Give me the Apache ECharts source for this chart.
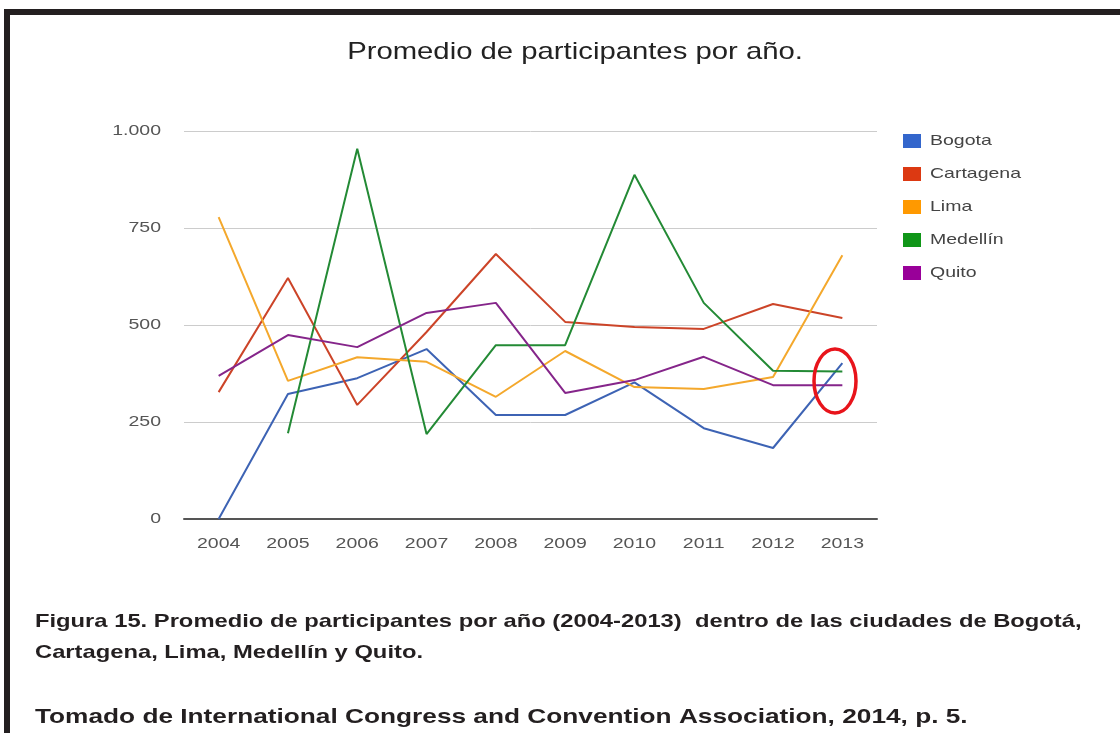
<!DOCTYPE html>
<html>
<head>
<meta charset="utf-8">
<script src="https://cdn.jsdelivr.net/npm/echarts@6/dist/echarts.min.js"></script>
<style>
  html, body { margin: 0; padding: 0; background: #fff; }
  #chart { width: 1120px; height: 733px; }
</style>
</head>
<body>
<div id="chart"></div>
<script>
// Years on the category axis
const years = ['2004', '2005', '2006', '2007', '2008', '2009', '2010', '2011', '2012', '2013'];

// Average participants per year, one array per city
const bogota    = [0, 322, 363, 438, 268, 268, 352, 234, 183, 402];
const cartagena = [327, 621, 294, 482, 683, 508, 495, 490, 554, 518];
const lima      = [778, 356, 417, 405, 315, 433, 340, 335, 366, 680];
const medellin  = [null, 221, 954, 219, 448, 448, 887, 557, 382, 380];
const quito     = [369, 474, 443, 531, 557, 325, 358, 418, 345, 345];

const cityNames = ['Bogota', 'Cartagena', 'Lima', 'Medellín', 'Quito'];
const cityData = [bogota, cartagena, lima, medellin, quito];
const legendColors = ['#3366cc', '#dc3912', '#ff9900', '#109618', '#990099'];
const lineColors = ['#3d63b4', '#cc4428', '#f4a82c', '#238a35', '#85258a'];

// Y axis ticks
const yTicks = [0, 250, 500, 750, 1000];

const chartTitle = 'Promedio de participantes por año.';
const captionLine1 = 'Figura 15. Promedio de participantes por año (2004-2013)  dentro de las ciudades de Bogotá,';
const captionLine2 = 'Cartagena, Lima, Medellín y Quito.';
const sourceLine = 'Tomado de International Congress and Convention Association, 2014, p. 5.';

const FONT = '"Liberation Sans", Arial, sans-serif';
const WIDE = 1.3; // horizontal stretch applied to the chart lettering

const chart = echarts.init(document.getElementById('chart'), null, { renderer: 'canvas' });

const fmt = v => v >= 1000 ? Math.floor(v / 1000) + '.' + String(v % 1000).padStart(3, '0') : String(v);

// stretched text element anchored at (x, y)
function txt(str, x, y, size, opts) {
  opts = opts || {};
  return {
    type: 'text', x: x, y: y, scaleX: opts.sx || WIDE, scaleY: 1, z: 50,
    style: {
      text: str, x: 0, y: 0,
      fill: opts.color || '#222',
      font: (opts.weight || 'normal') + ' ' + size + 'px ' + FONT,
      textAlign: opts.align || 'left',
      textVerticalAlign: 'middle'
    }
  };
}

chart.setOption({
  backgroundColor: '#ffffff',
  animation: false,
  grid: { left: 184, right: 243, top: 131, bottom: 214, containLabel: false },
  xAxis: {
    type: 'category',
    data: years,
    boundaryGap: true,
    axisLine: { lineStyle: { color: '#555', width: 2 } },
    axisTick: { show: false },
    axisLabel: { show: false }
  },
  yAxis: {
    type: 'value',
    min: yTicks[0], max: yTicks[yTicks.length - 1], interval: 250,
    axisLine: { show: false },
    axisTick: { show: false },
    splitLine: { lineStyle: { color: '#cccccc', width: 1 } },
    axisLabel: { show: false }
  },
  series: cityNames.map((name, i) => ({
    name: name,
    type: 'line',
    data: cityData[i],
    symbol: 'none',
    lineStyle: { width: 2, color: lineColors[i] },
    itemStyle: { color: lineColors[i] }
  }))
});

// Lettering, axis labels and legend placed through the chart's own scales
const g = [];
g.push({ type: 'rect', shape: { x: 4, y: 9, width: 1120, height: 6 }, style: { fill: '#231f20' } });
g.push({ type: 'rect', shape: { x: 4, y: 9, width: 6, height: 730 }, style: { fill: '#231f20' } });

g.push(txt(chartTitle, 575, 52, 24, { color: '#222', align: 'center', sx: 1.22 }));

years.forEach(yr => {
  const p = chart.convertToPixel({ xAxisIndex: 0 }, yr);
  g.push(txt(yr, p, 544, 15, { color: '#555', align: 'center' }));
});
yTicks.forEach(t => {
  const p = chart.convertToPixel({ yAxisIndex: 0 }, t);
  g.push(txt(fmt(t), 161, p, 15, { color: '#555', align: 'right' }));
});

cityNames.forEach((name, i) => {
  const cy = 141 + i * 33;
  g.push({ type: 'rect', shape: { x: 903, y: cy - 7, width: 18, height: 14 }, style: { fill: legendColors[i] } });
  g.push(txt(name, 930, cy, 15, { color: '#444' }));
});

g.push(txt(captionLine1, 35, 622, 19, { weight: 'bold', color: '#231f20', sx: 1.25 }));
g.push(txt(captionLine2, 35, 653, 19, { weight: 'bold', color: '#231f20', sx: 1.25 }));
g.push(txt(sourceLine, 35, 717, 20.5, { weight: 'bold', color: '#231f20', sx: 1.28 }));

// highlight ring around the 2013 values
g.push({ type: 'ellipse', shape: { cx: 835, cy: 381, rx: 21, ry: 32 }, style: { fill: 'none', stroke: '#e8141b', lineWidth: 3.5 }, z: 100 });

chart.setOption({ graphic: g });
</script>
</body>
</html>
